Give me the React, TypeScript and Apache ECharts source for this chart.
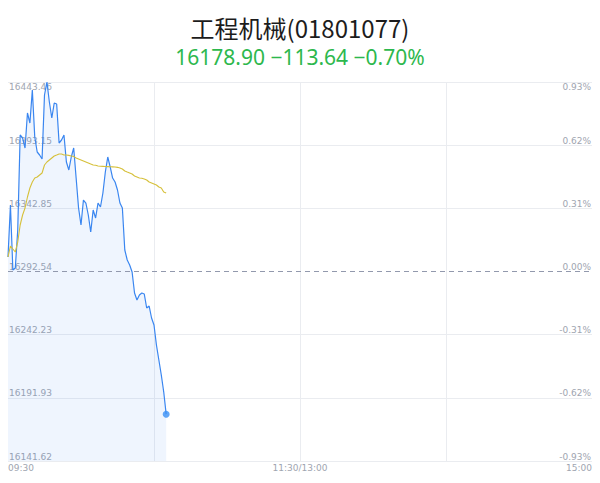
import { useEffect, useRef } from 'react';
import * as echarts from 'echarts';

const chartTitle = '工程机械(01801077)';
const prevClose = 16292.54;
const lastPrice = 16178.9;
const change = -113.64;
const changePct = -0.7;
const yMin = 16141.62;
const yMax = 16443.46;
const xTickLabels = ['09:30', '11:30/13:00', '15:00'];

const prices = [
  16304.09, 16345.5, 16293.73, 16295.33, 16325.59, 16401.25, 16398.86, 16390.9, 16418.77, 16410.81,
  16437.09, 16399.66, 16387.71, 16385.32, 16382.14, 16433.11, 16443.46, 16427.53, 16414.79, 16426.74,
  16425.94, 16394.88, 16397.27, 16401.25, 16379.75, 16373.38, 16383.73, 16390.9, 16367.0, 16343.11,
  16329.57, 16349.48, 16347.09, 16337.54, 16324.0, 16341.52, 16335.15, 16347.09, 16343.91, 16355.06,
  16371.78, 16383.73, 16375.77, 16367.0, 16363.82, 16357.45, 16347.09, 16343.11, 16309.66, 16301.7,
  16297.72, 16292.14, 16275.42, 16269.84, 16273.82, 16275.42, 16274.62, 16263.47, 16265.06, 16255.51,
  16249.93, 16234.0, 16222.06, 16210.11, 16196.57, 16178.9,
];

const avgPrices = [
  16304.09, 16312.85, 16310.46, 16308.07, 16316.03, 16329.57, 16337.54, 16343.11, 16351.87, 16359.04,
  16363.82, 16367.0, 16367.8, 16369.39, 16370.99, 16377.36, 16379.75, 16381.34, 16382.93, 16384.53,
  16385.32, 16386.12, 16386.12, 16385.32, 16385.32, 16385.0, 16384.53, 16384.2, 16382.93, 16382.14,
  16381.34, 16380.54, 16379.75, 16378.95, 16378.15, 16377.36, 16377.1, 16376.56, 16376.4, 16376.3,
  16376.2, 16376.1, 16376.0, 16375.9, 16375.77, 16375.5, 16374.97, 16374.17, 16372.58, 16371.78,
  16370.99, 16370.19, 16368.6, 16367.8, 16367.0, 16366.8, 16366.21, 16365.41, 16363.82, 16363.02,
  16362.23, 16361.43, 16359.84, 16359.04, 16355.85, 16355.06,
];

function pad(n: number) {
  return n < 10 ? '0' + n : '' + n;
}

function buildTimes(): string[] {
  const out: string[] = [];
  for (let m = 9 * 60 + 30; m <= 11 * 60 + 30; m++) out.push(pad(Math.floor(m / 60)) + ':' + pad(m % 60));
  for (let m = 13 * 60 + 1; m <= 15 * 60; m++) out.push(pad(Math.floor(m / 60)) + ':' + pad(m % 60));
  return out;
}

const times = buildTimes();
const labelFont = 'DejaVu Sans';
const labelColor = '#a0a5b0';
const gridColor = '#eaecf0';

export default function App() {
  const ref = useRef<HTMLDivElement>(null);

  useEffect(() => {
    document.body.style.margin = '0';
    if (!ref.current) return;
    const chart = echarts.init(ref.current, undefined, { renderer: 'svg' });
    const interval = (yMax - yMin) / 6;
    const lastIdx = prices.length - 1;
    const midIdx = Math.floor((times.length - 1) / 2);
    const endIdx = times.length - 1;
    const sign = change < 0 ? '−' : '+';
    const subText = `${lastPrice.toFixed(2)} ${sign}${Math.abs(change).toFixed(2)} ${sign}${Math.abs(changePct).toFixed(2)}%`;

    chart.setOption({
      animation: false,
      title: [
        {
          text: chartTitle,
          left: 'center',
          top: 13,
          padding: 0,
          textStyle: { fontSize: 24, lineHeight: 28, color: '#1c1c1c', fontWeight: 'normal', fontFamily: 'Noto Sans CJK SC' },
        },
        {
          text: subText,
          left: 'center',
          top: 45,
          padding: 0,
          textStyle: { fontSize: 21, lineHeight: 24, color: '#2db84d', fontWeight: 'normal', fontFamily: 'Noto Sans' },
        },
      ],
      grid: { left: 8, right: 8, top: 82, bottom: 22, containLabel: false },
      xAxis: {
        type: 'category',
        data: times,
        boundaryGap: false,
        axisLine: { show: false },
        axisTick: { show: false },
        splitLine: {
          show: true,
          interval: (i: number) => i > 0 && i < endIdx && i % 60 === 0,
          lineStyle: { color: gridColor, width: 1 },
        },
        axisLabel: {
          show: true,
          interval: (i: number) => i === 0 || i === midIdx || i === endIdx,
          margin: 2,
          fontSize: 9,
          fontFamily: labelFont,
          color: labelColor,
          alignMinLabel: 'left',
          alignMaxLabel: 'right',
          formatter: (_v: string, i: number) =>
            i === 0 ? xTickLabels[0] : i === midIdx ? xTickLabels[1] : i === endIdx ? xTickLabels[2] : '',
        },
      },
      yAxis: [
        {
          type: 'value',
          position: 'left',
          min: yMin,
          max: yMax,
          interval,
          axisLine: { show: false },
          axisTick: { show: false },
          splitLine: {
            show: true,
            lineStyle: { color: [gridColor, gridColor, gridColor, 'rgba(0,0,0,0)', gridColor, gridColor, gridColor], width: 1 },
          },
          axisLabel: {
            inside: true,
            margin: 1,
            fontSize: 9,
            fontFamily: labelFont,
            color: labelColor,
            verticalAlign: 'bottom',
            verticalAlignMaxLabel: 'top',
            formatter: (v: number) => v.toFixed(2),
          },
        },
        {
          type: 'value',
          position: 'right',
          min: yMin,
          max: yMax,
          interval,
          axisLine: { show: false },
          axisTick: { show: false },
          splitLine: { show: false },
          axisLabel: {
            inside: true,
            margin: 1,
            fontSize: 9,
            fontFamily: labelFont,
            color: labelColor,
            verticalAlign: 'bottom',
            verticalAlignMaxLabel: 'top',
            formatter: (v: number) => {
              const p = ((v - prevClose) / prevClose) * 100;
              return (Math.abs(p) < 0.005 ? '0.00' : p.toFixed(2)) + '%';
            },
          },
        },
      ],
      series: [
        {
          type: 'line',
          data: prices,
          showSymbol: false,
          symbol: 'none',
          lineStyle: { color: '#3a86f0', width: 1.2 },
          areaStyle: { color: 'rgba(58,134,240,0.12)', origin: 'start' },
          markLine: {
            silent: true,
            symbol: ['none', 'none'],
            label: { show: false },
            lineStyle: { color: '#9299ad', type: [5, 4], width: 1 },
            data: [{ yAxis: prevClose }],
          },
          z: 3,
        },
        {
          type: 'line',
          data: avgPrices,
          showSymbol: false,
          symbol: 'none',
          lineStyle: { color: '#d6c03a', width: 1.1 },
          z: 4,
        },
        {
          type: 'scatter',
          data: [[lastIdx, prices[lastIdx]]],
          symbol: 'circle',
          symbolSize: 7,
          itemStyle: { color: '#3a90f5' },
          z: 5,
        },
      ],
    });
    return () => chart.dispose();
  }, []);

  return <div ref={ref} style={{ width: 600, height: 483 }} />;
}
